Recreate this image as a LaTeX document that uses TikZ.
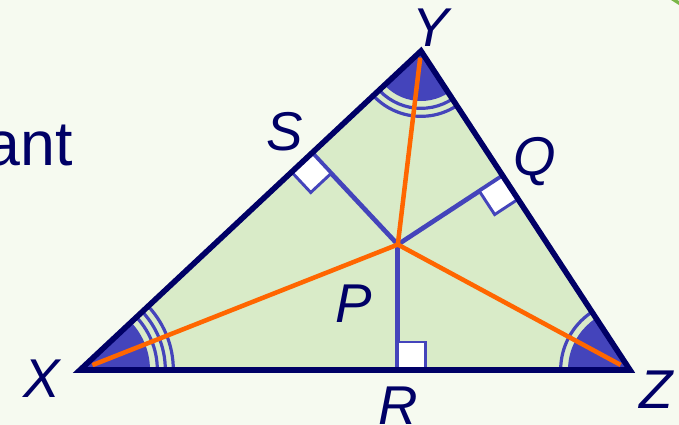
\documentclass[tikz,border=0pt]{standalone}
\usepackage{fontspec}
\setmainfont{Liberation Sans}
\usetikzlibrary{calc}
\definecolor{bgc}{RGB}{246,250,240}
\definecolor{trifill}{RGB}{217,235,200}
\definecolor{navy}{RGB}{0,0,102}
\definecolor{angblue}{RGB}{68,68,187}
\definecolor{orng}{RGB}{255,102,0}
\definecolor{cornergreen}{RGB}{122,182,72}
\begin{document}
\begin{tikzpicture}[x=0.75pt,y=-0.75pt,
 edge/.style={draw=navy,line width=4.2pt,line join=miter},
 bis/.style={draw=orng,line width=3.4pt},
 perp/.style={draw=angblue,line width=3.5pt},
 rsq/.style={draw=angblue,fill=white,line width=2.2pt},
 arcline/.style={draw=angblue,line width=2.4pt},
 lbl/.style={text=navy,font=\fontsize{41}{41}\selectfont\itshape,inner sep=0pt}]
\path[use as bounding box, fill=bgc] (0,0) rectangle (679,425);
\clip (0,0) rectangle (679,425);

\coordinate (X) at (80,370);
\coordinate (Y) at (421,51);
\coordinate (Z) at (630,370);
\coordinate (P) at (barycentric cs:X=0.2727,Y=0.3933,Z=0.3340);
\coordinate (S) at ($(X)!(P)!(Y)$);
\coordinate (Q) at ($(Y)!(P)!(Z)$);
\coordinate (R) at ($(X)!(P)!(Z)$);

% triangle interior
\fill[trifill] (X)--(Y)--(Z)--cycle;
\begin{scope}
\clip (X)--(Y)--(Z)--cycle;
\fill[angblue] (X) circle[radius=52.5pt];
\draw[arcline] (X) circle[radius=58pt] (X) circle[radius=64pt] (X) circle[radius=70pt];
\fill[angblue] (Y) circle[radius=37.5pt];
\draw[arcline] (Y) circle[radius=43pt] (Y) circle[radius=49pt];
\fill[angblue] (Z) circle[radius=46.5pt];
\draw[arcline] (Z) circle[radius=52pt];
\end{scope}

% perpendiculars
\draw[perp] (P) -- (S);
\draw[perp] (P) -- (Q);
\draw[perp] (P) -- (R);

% right-angle marks
\coordinate (S1) at ($(S)!21pt!(P)$);
\coordinate (S2) at ($(S)!21pt!(X)$);
\draw[rsq] (S) -- (S1) -- ($(S1)+(S2)-(S)$) -- (S2) -- cycle;
\coordinate (Q1) at ($(Q)!21pt!(P)$);
\coordinate (Q2) at ($(Q)!21pt!(Z)$);
\draw[rsq] (Q) -- (Q1) -- ($(Q1)+(Q2)-(Q)$) -- (Q2) -- cycle;
\coordinate (R1) at ($(R)!21pt!(P)$);
\coordinate (R2) at ($(R)!21pt!(Z)$);
\draw[rsq] (R) -- (R1) -- ($(R1)+(R2)-(R)$) -- (R2) -- cycle;

% angle bisectors
\draw[bis, shorten >=10pt] (P) -- (X);
\draw[bis, shorten >=5pt] (P) -- (Y);
\draw[bis, shorten >=8pt] (P) -- (Z);

% triangle outline
\draw[edge] (X)--(Y)--(Z)--cycle;

% labels
\node[lbl] (lX) at (42,379) {X};
\node[lbl] (lY) at (431,28) {Y};
\node[lbl] (lZ) at (656,390) {Z};
\node[lbl] (lS) at (285,132) {S};
\node[lbl] (lQ) at (535,162) {Q};
\node[lbl] (lP) at (354,304) {P};
\node[lbl] (lR) at (398,406) {R};
\node[text=navy,font=\fontsize{47}{47}\selectfont,anchor=base east,inner sep=0pt] (ant) at (73,165) {ant};

% corner decoration
\draw[cornergreen, line width=2.5pt] (671,-2) -- (682,5);
\end{tikzpicture}
\end{document}
